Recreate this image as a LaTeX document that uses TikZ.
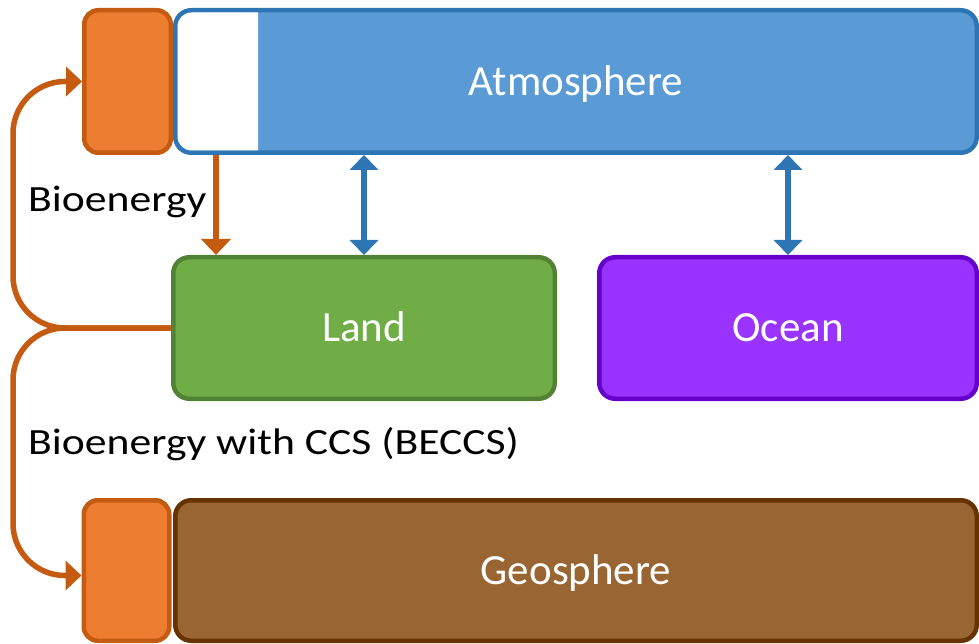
\documentclass[tikz,border=0pt]{standalone}
\usepackage{fontspec}
\setmainfont{Carlito}
\newfontfamily\widefont{Carlito}[FakeStretch=1.18]
\usetikzlibrary{arrows.meta,positioning}
\definecolor{atmoFill}{HTML}{5B9BD5}
\definecolor{atmoLine}{HTML}{2E75B6}
\definecolor{bioFill}{HTML}{ED7D31}
\definecolor{bioLine}{HTML}{C55A11}
\definecolor{landFill}{HTML}{70AD47}
\definecolor{landLine}{HTML}{548235}
\definecolor{oceanFill}{HTML}{9933FF}
\definecolor{oceanLine}{HTML}{6600CC}
\definecolor{geoFill}{HTML}{996633}
\definecolor{geoLine}{HTML}{663300}

\begin{document}
\begin{tikzpicture}[x=1pt,y=-1pt,
  sphere/.style={draw, line width=4.5pt, rounded corners=16pt, text=white,
                 font=\fontsize{43}{50}\selectfont,
                 text height=27.5pt, text depth=0pt},
  sink/.style={draw=bioLine, fill=bioFill, line width=4.5pt,
               rounded corners=14pt},
  flowlabel/.style={inner sep=0pt, anchor=base west,
                    font=\widefont\fontsize{37}{42}\selectfont},
  bioflow/.style={draw=bioLine, line width=5.5pt,
                  -{Triangle[width=29pt,length=16pt]}},
  exchange/.style={draw=atmoLine, line width=5.5pt,
                   {Triangle[width=28pt,length=15pt]}-{Triangle[width=28pt,length=15pt]}}]

  \useasboundingbox (0,0) rectangle (979,644);

  \node [sphere, fill=atmoFill, draw=atmoLine,
         minimum width=801.5pt, minimum height=142.5pt] (atmo) at (576,81.5)
        {Atmosphere};
  \node [sink, minimum width=86.5pt, minimum height=142.5pt] (bioA)
        at (127.5,81.5) {};

  \begin{scope}
    \clip (atmo.north west) rectangle (258,160);
    \fill [white, rounded corners=14pt]
      ([shift={(4.5pt,-4.5pt)}]atmo.north west) rectangle
      ([shift={(-4.5pt,4.5pt)}]atmo.south east);
  \end{scope}

  \node [sphere, fill=landFill, draw=landLine,
         minimum width=381.5pt, minimum height=141.5pt] (land) at (364,328)
        {Land};
  \node [sphere, fill=oceanFill, draw=oceanLine,
         minimum width=377.5pt, minimum height=141.5pt] (ocean) at (788,328)
        {Ocean};

  \node [sphere, fill=geoFill, draw=geoLine,
         minimum width=801.5pt, minimum height=140.5pt] (geo) at (576,570.5)
        {Geosphere};
  \node [sink, minimum width=85.5pt, minimum height=140.5pt] (bioG)
        at (126.5,570.5) {};

  \node [flowlabel] (bioText) at (28,212) {Bioenergy};
  \node [flowlabel] (ccsText) at (28,454) {Bioenergy with CCS (BECCS)};

  \coordinate (bioTap) at ([xshift=43pt]atmo.south west);
  \coordinate (loop) at (13,328);

  \draw [bioflow] (bioTap) -- (bioTap |- land.north);
  \draw [exchange] (land.north |- atmo.south) -- (land.north);
  \draw [exchange] (ocean.north |- atmo.south) -- (ocean.north);

  \draw [bioflow, rounded corners=52pt] (land.west) -- (loop) |- (bioA.west);
  \draw [bioflow, rounded corners=52pt] (land.west) -- (loop)
        |- ([yshift=-5pt]bioG.west);

\end{tikzpicture}
\end{document}
